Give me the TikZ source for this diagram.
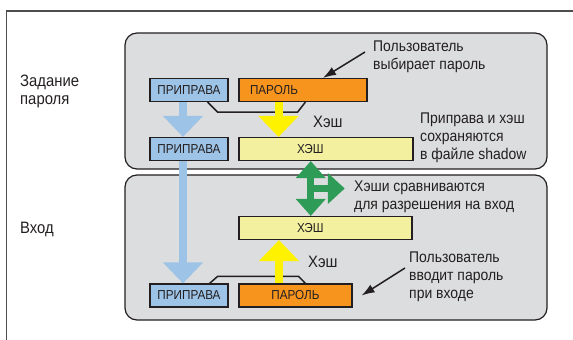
\documentclass[tikz,border=0pt]{standalone}
\usepackage{fontspec}
\setmainfont{Liberation Sans}[FakeStretch=0.9]
\usetikzlibrary{arrows.meta,calc}

\definecolor{panelgray}{HTML}{DCDDDE}
\definecolor{saltblue}{HTML}{9DC3E6}
\definecolor{pworange}{HTML}{F7941E}
\definecolor{hashyellow}{HTML}{F3F19F}
\definecolor{arrowyellow}{HTML}{FFF200}
\definecolor{cmpgreen}{HTML}{2E9B57}
\definecolor{ink}{HTML}{231F20}

\begin{document}
\begin{tikzpicture}[x=1pt,y=-1pt,
	box/.style={draw=ink, line width=1.2pt, minimum height=23pt, inner sep=0pt, text=ink, font=\fontsize{13}{14}\selectfont},
	note/.style={anchor=west, align=left, inner sep=0pt, text=ink, font=\fontsize{15.5}{18}\selectfont},
	side/.style={note, font=\fontsize{16.5}{18}\selectfont},
	fat/.style={line width=8pt, -{Triangle[width=39pt,length=21pt]}},
	ptr/.style={ink, line width=1.5pt, -{Latex[length=13pt,width=9pt]}}]
	\useasboundingbox (0,0) rectangle (573,340);
	\draw[ink!80, line width=1.3pt] (6.5,340) -- (6.5,11) -- (573,11);
	% the two stages
	\draw[ink, line width=1.2pt, fill=panelgray, rounded corners=12pt] (125,33) rectangle (547,169);
	\draw[ink, line width=1.2pt, fill=panelgray, rounded corners=12pt] (125,175) rectangle (547,320);
	\node[side] (setpw) at (20,91) {Задание\\пароля};
	\node[side] (login) at (20,229) {Вход};
	% boxes
	\node[box, fill=saltblue, minimum width=78pt] (salt1) at (189,90) {ПРИПРАВА};
	\node[box, fill=pworange, text width=106pt, inner xsep=11pt, align=left] (pw1) at (303,90) {ПАРОЛЬ};
	\node[box, fill=saltblue, minimum width=78pt] (salt2) at (189,149) {ПРИПРАВА};
	\node[box, fill=hashyellow, text width=58pt, inner xsep=58pt, align=left] (hash1) at (326,149) {ХЭШ};
	\node[box, fill=hashyellow, text width=57pt, inner xsep=58pt, align=left] (hash2) at (325.5,228) {ХЭШ};
	\node[box, fill=saltblue, minimum width=78pt] (salt3) at (189,295.5) {ПРИПРАВА};
	\node[box, fill=pworange, minimum width=113pt] (pw2) at (295.5,295.5) {ПАРОЛЬ};
	% salt + password brackets
	\draw[ink, line width=1.5pt] ($(salt1.south east)+(-21,0)$) -- ++(10,10) -- ++(80,0) -- ($(pw1.south west)+(67,0)$);
	\draw[ink, line width=1.5pt] ($(salt3.north east)+(-19,0)$) -- ++(8,-7) -- ++(81,0) -- ($(pw2.north west)+(67,0)$);
	% big arrows
	\draw[fat, saltblue] ([xshift=-6pt]salt1.south) -- ([xshift=-6pt]salt2.north);
	\draw[fat, saltblue] ([xshift=-6pt]salt2.south) -- ([xshift=-6pt]salt3.north);
	\coordinate (ydown) at ([xshift=-24.5pt]pw1.south);
	\draw[fat, arrowyellow] (ydown) -- (ydown |- hash1.north);
	\coordinate (yup) at ([xshift=-16.5pt]pw2.north);
	\draw[fat, arrowyellow] (yup) -- (yup |- hash2.south);
	\node[side] (hashlbl1) at (313,122) {Хэш};
	\node[side] (hashlbl2) at (308,262) {Хэш};
	% comparison
	\coordinate (gmid) at ($(hash1.south)!0.5!(hash2.north)+(-15,0)$);
	\draw[cmpgreen, line width=7pt, {Triangle[width=29pt,length=17pt]}-{Triangle[width=29pt,length=17pt]}] (gmid |- hash1.south) -- (gmid |- hash2.north);
	\draw[cmpgreen, line width=6.5pt, -{Triangle[width=30pt,length=17pt]}] (gmid) -- ++(34,0);
	% notes
	\node[note] (choose) at (373,57) {Пользователь\\выбирает пароль};
	\node[note] (stored) at (420,138) {Приправа и хэш\\сохраняются\\в файле shadow};
	\node[note] (compare) at (354,197) {Хэши сравниваются\\для разрешения на вход};
	\node[note] (enter) at (409,277) {Пользователь\\вводит пароль\\при входе};
	\draw[ptr] ([xshift=-8pt,yshift=5pt]choose.west) -- ([xshift=20pt]pw1.north);
	\draw[ptr] ([xshift=-4pt,yshift=9pt]enter.west) -- ([xshift=9pt]pw2.east);
\end{tikzpicture}
\end{document}
